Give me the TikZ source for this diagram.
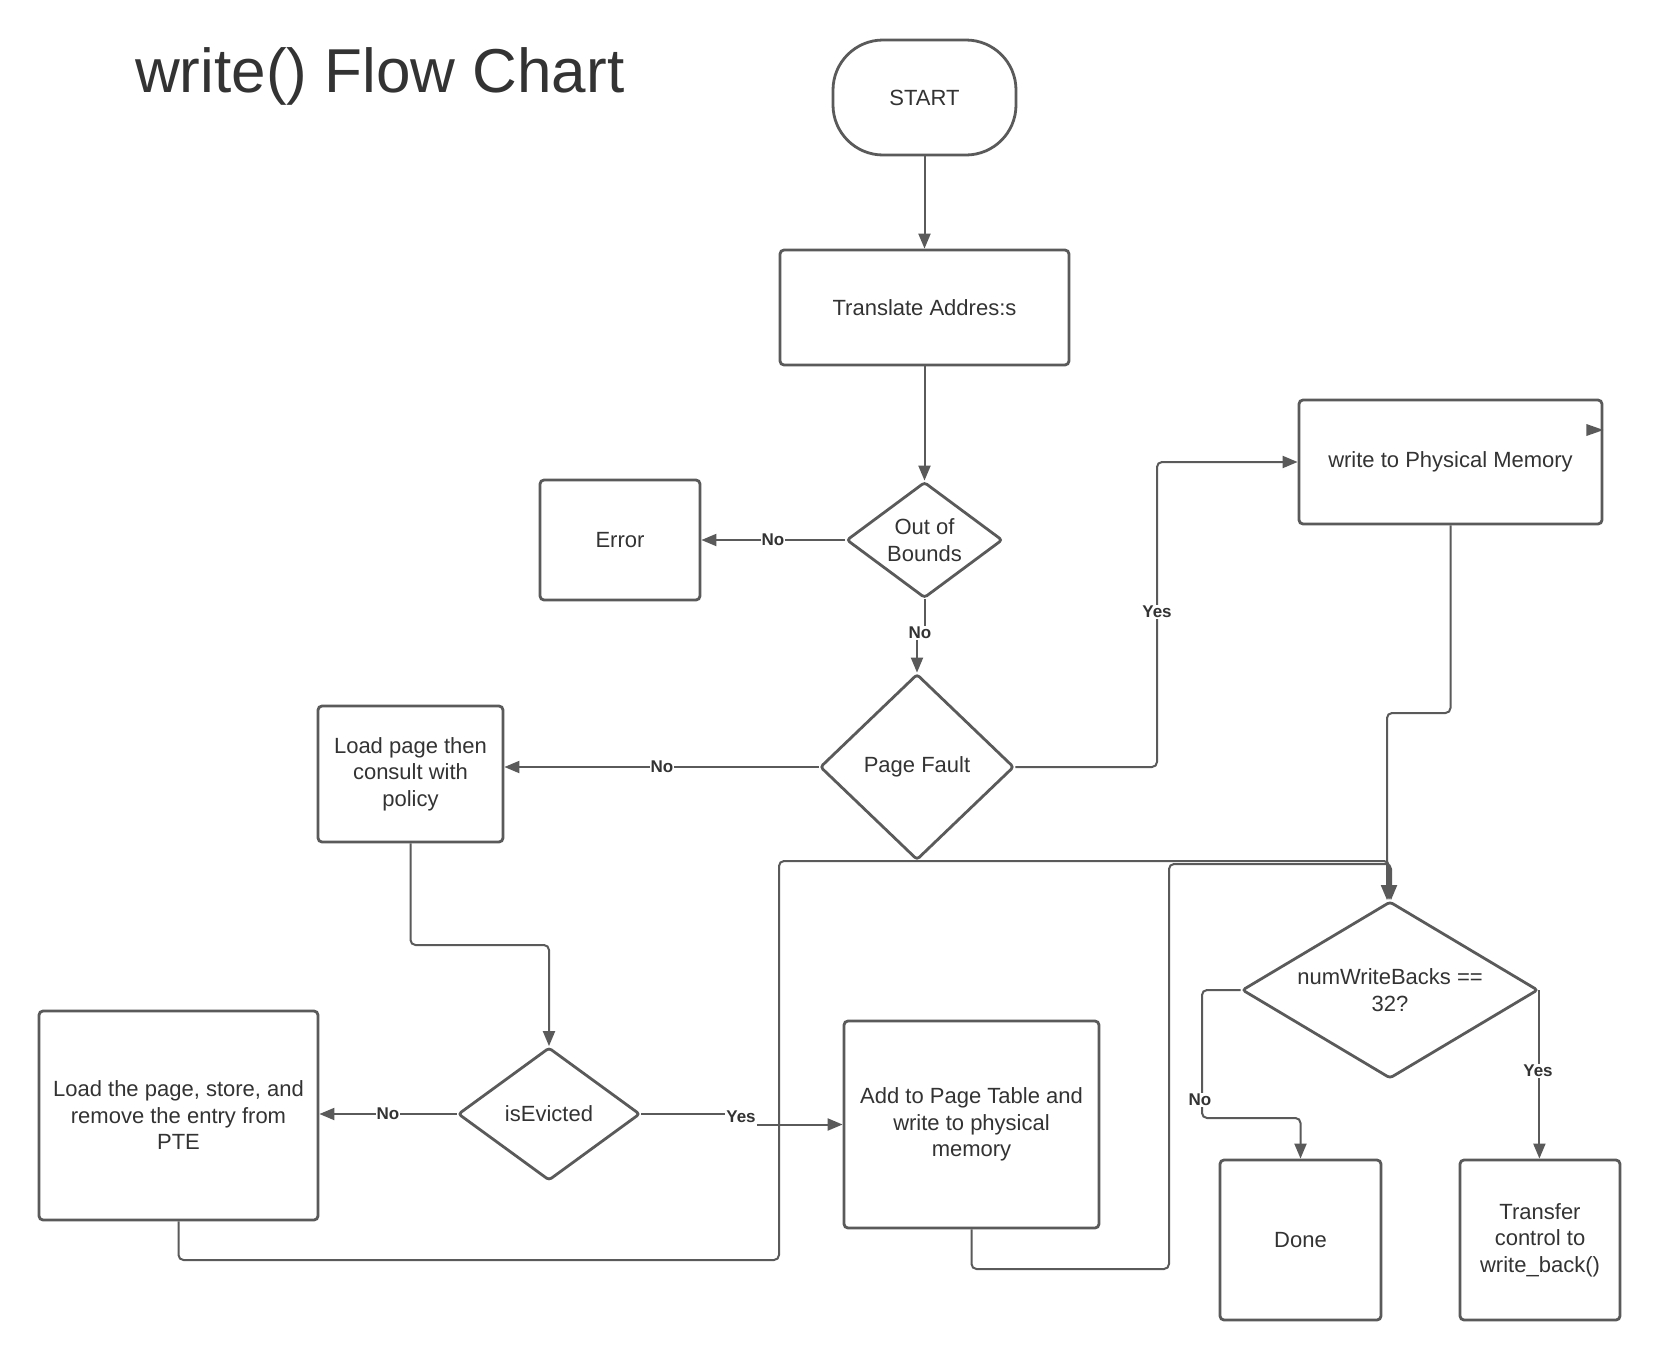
\documentclass[tikz,border=0pt]{standalone}
\usepackage{fontspec}
\setmainfont{Liberation Sans}
\usetikzlibrary{shapes.geometric,arrows.meta}
\definecolor{ln}{HTML}{5A5A5A}
\definecolor{tx}{HTML}{333333}
\begin{document}
\begin{tikzpicture}[x=1pt,y=-1pt,
  box/.style={draw=ln,line width=2.8pt,rounded corners=4pt,fill=white,text=tx,align=center,inner sep=0pt,font=\fontsize{22}{26.5}\selectfont},
  dia/.style={diamond,draw=ln,line width=2.8pt,rounded corners=3pt,fill=white,text=tx,align=center,inner sep=0pt,font=\fontsize{22}{26.5}\selectfont},
  conn/.style={draw=ln,line width=2pt,rounded corners=5pt},
  arr/.style={conn,-{Triangle[length=15pt,width=12pt]}},
  lab/.style={fill=white,text=tx,font=\bfseries\fontsize{17}{19}\selectfont,inner sep=1pt}]
\useasboundingbox (0,0) rectangle (1660,1360);
\fill[white] (0,0) rectangle (1660,1360);

\node[anchor=base west,inner sep=0pt,text=tx,font=\fontsize{62}{70}\selectfont] (title) at (135,92) {write() Flow Chart};

\node[box,rounded corners=50pt,minimum width=183pt,minimum height=115pt] (start) at (924.5,97.5) {START};
\node[box,minimum width=289pt,minimum height=115pt] (trans) at (924.5,307.5) {Translate Addres:s};
\node[dia,aspect=1.35,minimum width=156pt,minimum height=116pt] (oob) at (924.5,540) {Out of\\Bounds};
\node[box,minimum width=160pt,minimum height=120pt] (err) at (620,540) {Error};
\node[dia,aspect=1.04,minimum width=194pt,minimum height=186pt] (pf) at (917,767) {Page Fault};
\node[box,minimum width=185pt,minimum height=136pt] (lpc) at (410.5,774) {Load page then\\consult with\\policy};
\node[box,minimum width=303pt,minimum height=124pt] (wpm) at (1450.5,462) {write to Physical Memory};
\node[dia,aspect=1.67,minimum width=296pt,minimum height=177pt] (nwb) at (1390,990) {numWriteBacks ==\\32?};
\node[box,minimum width=161pt,minimum height=160pt] (done) at (1300.5,1240) {Done};
\node[box,minimum width=160pt,minimum height=160pt] (tr) at (1540,1240) {Transfer\\control to\\write\_back()};
\node[box,minimum width=279pt,minimum height=209pt] (ltp) at (178.5,1115.5) {Load the page, store, and\\remove the entry from\\PTE};
\node[dia,aspect=1.37,minimum width=182pt,minimum height=133pt] (ise) at (549,1114) {isEvicted};
\node[box,minimum width=255pt,minimum height=207pt] (add) at (971.5,1124.5) {Add to Page Table and\\write to physical\\memory};

% turning points
\coordinate (yv) at (1157,462);
\coordinate (w1) at (1450.5,713);
\coordinate (b1) at (779,1260);
\coordinate (b2) at (779,861);
\coordinate (b3) at (1169,1269);
\coordinate (b4) at (1169,864);
\coordinate (d1) at (1202,1118);
\coordinate (e1) at (480,945);

% connectors
\draw[arr] (start) -- (trans);
\draw[arr] (trans) -- (oob);
\draw[arr] (oob.west) -- (err.east);
\node[lab] (l1) at (773,540) {No};

\node[lab] (l2) at (920,633) {No};
\draw[conn] (oob.south) -- (oob.south |- l2.north);
\draw[arr] (l2.south -| pf.north) -- (pf.north);

\draw[arr] (pf.west) -- (pf.west -| lpc.east);
\node[lab] (l3) at (662,767) {No};

\draw[arr] (pf.east) -- (pf.east -| yv) -- (yv) -- (wpm.west);
\node[lab] (l4) at (1157,612) {Yes};

\draw[arr] (wpm.south) -- (w1) -| ([xshift=-3pt]nwb.north);
\draw[arr] (ltp.south) -- (ltp.south |- b1) -- (b1) -- (b2) -| ([xshift=-1pt]nwb.north);
\draw[arr] (add.south) -- (add.south |- b3) -- (b3) -- (b4) -| ([xshift=1pt]nwb.north);

\draw[arr] (lpc.south) -- (lpc.south |- e1) -| (ise.north);
\draw[arr] (ise.west) -- (ise.west -| ltp.east);
\node[lab] (l5) at (388,1114) {No};

\node[lab] (l6) at (741,1117) {Yes};
\draw[conn] (ise.east) -- (ise.east -| l6.west);
\draw[arr] (l6.east |- add.west) -- (add.west);

\draw[arr] (nwb.west) -- (nwb.west -| d1) -- (d1) -| (done.north);
\node[lab] (l7) at (1200,1100) {No};
\draw[arr] (nwb.east) -- (nwb.east |- tr.north);
\node[lab] (l8) at (1538,1071) {Yes};

% stray arrowhead inside the memory box
\fill[ln] (wpm.east |- 0,430) -- ++(-17,-6) -- ++(0,12) -- cycle;
\end{tikzpicture}
\end{document}
